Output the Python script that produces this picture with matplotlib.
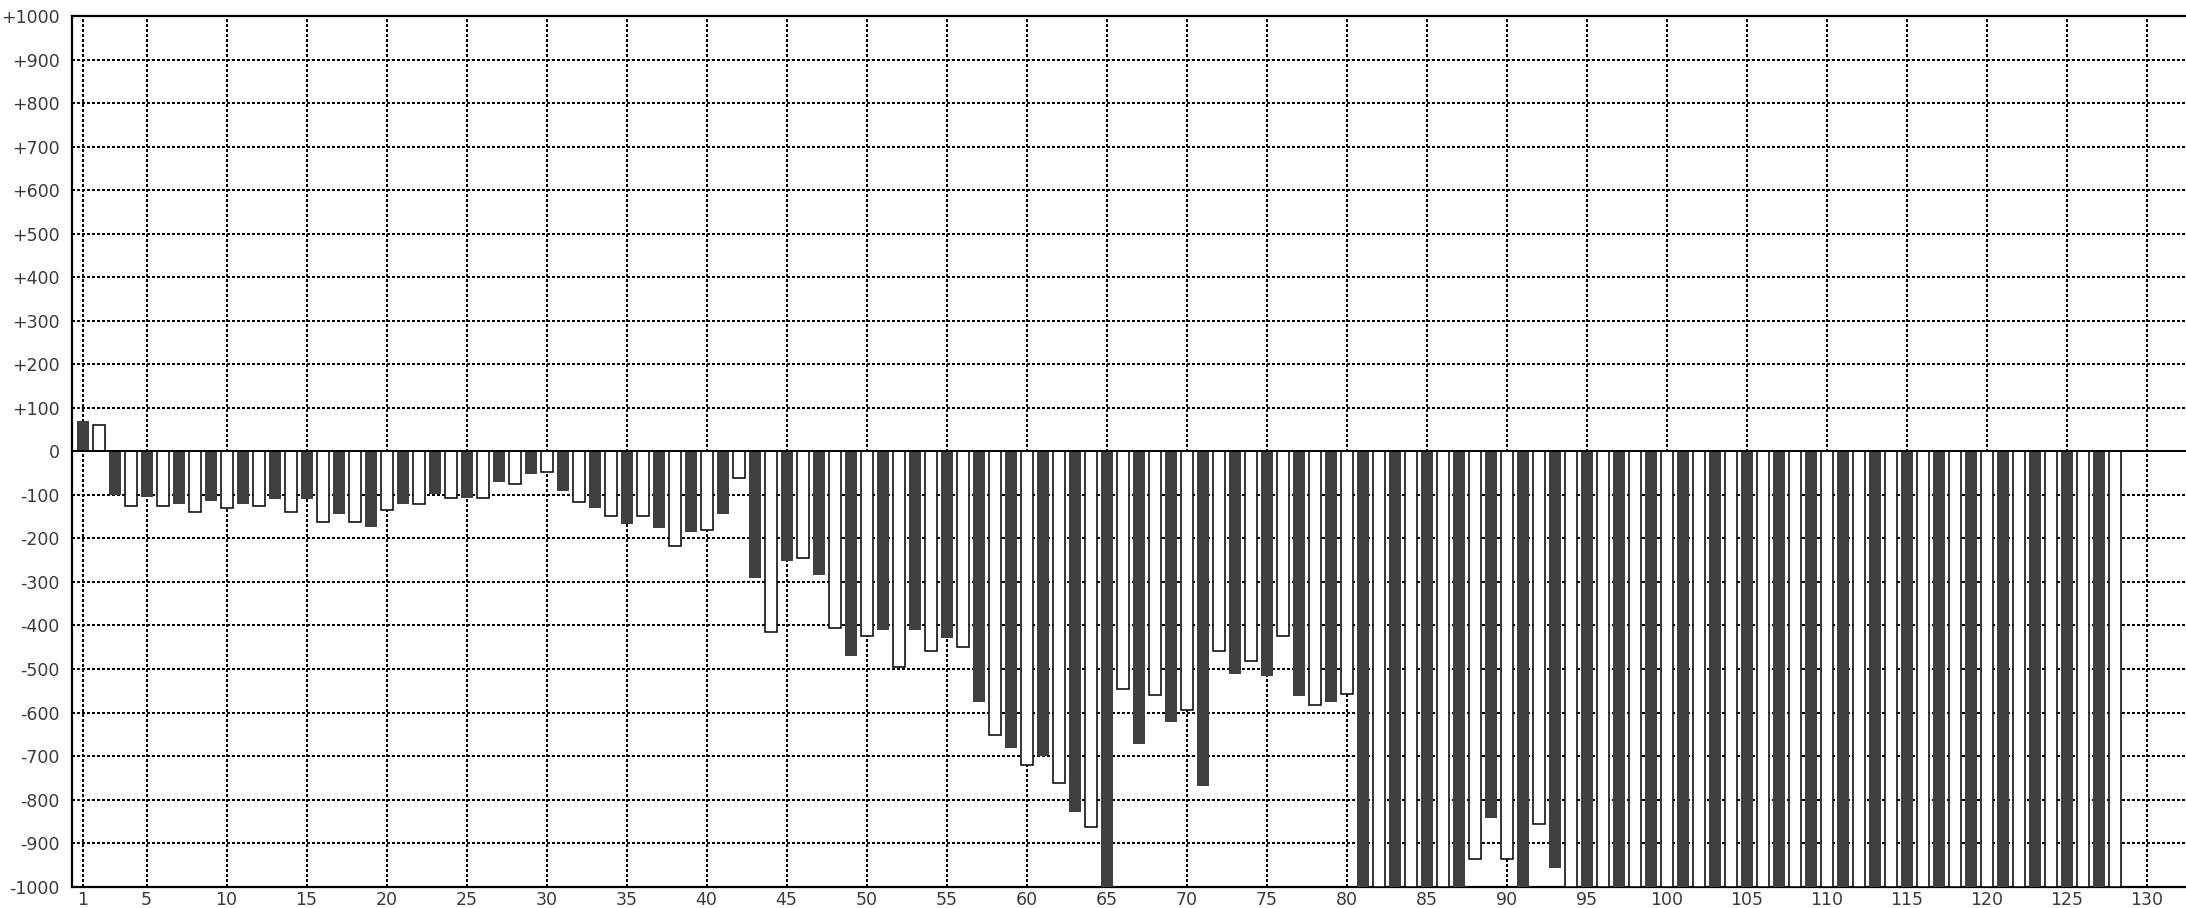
#!/usr/bin/env python3
"""Alternating dark / open bar chart, values clipped to +/-1000."""

import matplotlib
matplotlib.use("Agg")
import matplotlib.pyplot as plt
import numpy as np

# odd positions 1, 3, ..., 127 (filled bars)
dark_vals = [
    70, -100, -105, -122, -113, -122, -109, -109, -145, -173,
    -122, -99, -108, -71, -53, -90, -131, -168, -177, -186,
    -145, -292, -252, -283, -470, -411, -411, -429, -576, -681,
    -700, -828, -1000, -672, -622, -768, -511, -517, -562, -576,
    -1000, -1000, -1000, -1000, -842, -1000, -956, -1000, -1000, -1000,
    -1000, -1000, -1000, -1000, -1000, -1000, -1000, -1000, -1000, -1000,
    -1000, -1000, -1000, -1000,
]
# even positions 2, 4, ..., 128 (open bars)
light_vals = [
    60, -126, -126, -139, -130, -126, -139, -163, -163, -135,
    -121, -107, -107, -75, -47, -116, -149, -149, -218, -181,
    -61, -414, -245, -406, -423, -495, -459, -450, -651, -721,
    -762, -862, -547, -560, -595, -459, -482, -423, -583, -557,
    -1000, -1000, -1000, -937, -937, -855, -1000, -1000, -1000, -1000,
    -1000, -1000, -1000, -1000, -1000, -1000, -1000, -1000, -1000, -1000,
    -1000, -1000, -1000, -1000,
]
x_ticks = [1, 5, 10, 15, 20, 25, 30, 35, 40, 45, 50, 55, 60, 65, 70, 75,
           80, 85, 90, 95, 100, 105, 110, 115, 120, 125, 130]
y_ticks = [-1000, -900, -800, -700, -600, -500, -400, -300, -200, -100, 0,
           100, 200, 300, 400, 500, 600, 700, 800, 900, 1000]

W, H = 2186, 908
fig = plt.figure(figsize=(W / 100, H / 100), dpi=100)

# x=0 sits at ~66.5 px, 16 px per unit; axes run off the right edge
x_left, x_right = 0.3625, 140.0
ax_left_px = 66.5 + x_left * 16
ax_w_px = (x_right - x_left) * 16
ax_top_px, ax_bot_px = 16.0, 886.7
ax = fig.add_axes([ax_left_px / W, (H - ax_bot_px) / H,
                   ax_w_px / W, (ax_bot_px - ax_top_px) / H])

x_dark = np.arange(1, 2 * len(dark_vals), 2)
x_light = np.arange(2, 2 * len(light_vals) + 1, 2)

ax.bar(x_dark, dark_vals, width=0.75, color="#404040", linewidth=0, zorder=3)
ax.bar(x_light, light_vals, width=0.75, facecolor="white", edgecolor="black",
       linewidth=1.1, zorder=3)
ax.axhline(0, color="black", linewidth=1.4, zorder=4)

ax.set_xlim(x_left, x_right)
ax.set_ylim(-1000, 1000)
ax.set_xticks(x_ticks)
ax.set_yticks(y_ticks)
ax.set_yticklabels(["+%d" % v if v > 0 else "%d" % v for v in y_ticks])

ax.grid(True, color="black", linewidth=1.45, linestyle=(0, (1, 1)),
        antialiased=False, zorder=0)
ax.set_axisbelow(True)

ax.tick_params(axis="both", length=0, labelsize=12.5, labelcolor="#3a3a3a")
ax.tick_params(axis="y", pad=9)
ax.tick_params(axis="x", pad=3)

for side in ("top", "left", "bottom"):
    ax.spines[side].set_linewidth(1.6)
    ax.spines[side].set_color("black")
ax.spines["right"].set_visible(False)

fig.savefig("out.png", dpi=100)
